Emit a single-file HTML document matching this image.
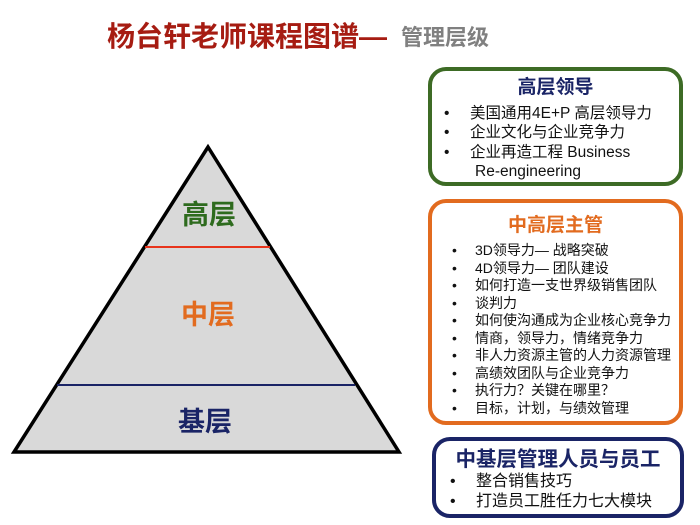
<!DOCTYPE html>
<html><head><meta charset="utf-8"><style>
*{margin:0;padding:0;box-sizing:border-box}
body{width:700px;height:525px;background:#fff;position:relative;overflow:hidden;font-family:"Liberation Sans","Noto Sans CJK SC",sans-serif}
.a{position:absolute;white-space:nowrap}
.box{position:absolute;background:#fff;border-radius:18px}
.t{position:absolute;left:0;right:0;text-align:center;font-weight:bold;line-height:1.2}
.li{position:absolute;white-space:nowrap;color:#111;line-height:20px;height:20px}
</style></head><body>
<div class="a" style="left:107px;top:15px;font-size:28px;font-weight:bold;color:#a61c12">杨台轩老师课程图谱—</div>
<div class="a" style="left:401px;top:20px;font-size:22px;font-weight:bold;color:#808080">管理层级</div>

<svg class="a" style="left:0;top:0" width="420" height="470">
<polygon points="208,147 14,452 399,452" fill="#d9d9d9" stroke="#000" stroke-width="3.5" stroke-linejoin="miter"/>
<line x1="145" y1="247" x2="270" y2="247" stroke="#e8341c" stroke-width="2"/>
<line x1="57" y1="385" x2="355" y2="385" stroke="#1a2466" stroke-width="2"/>
<text x="209" y="224" font-size="27" font-weight="bold" fill="#2e6b1e" text-anchor="middle" font-family="Liberation Sans,Noto Sans CJK SC,sans-serif">高层</text>
<text x="208" y="324" font-size="27" font-weight="bold" fill="#e26b1f" text-anchor="middle" font-family="Liberation Sans,Noto Sans CJK SC,sans-serif">中层</text>
<text x="205" y="431" font-size="27" font-weight="bold" fill="#1a2466" text-anchor="middle" font-family="Liberation Sans,Noto Sans CJK SC,sans-serif">基层</text>
</svg>

<div class="box" style="left:428px;top:67px;width:255px;height:119px;border:4px solid #3d6b25">
<div class="t" style="top:6px;font-size:19px;color:#1a2466">高层领导</div>
<div class="li" style="left:12px;top:33px;font-size:15.5px">•</div><div class="li" style="left:38px;top:33px;font-size:15.5px">美国通用4E+P 高层领导力</div>
<div class="li" style="left:12px;top:52px;font-size:15.5px">•</div><div class="li" style="left:38px;top:52px;font-size:15.5px">企业文化与企业竞争力</div>
<div class="li" style="left:12px;top:72px;font-size:15.5px">•</div><div class="li" style="left:38px;top:72px;font-size:15.5px">企业再造工程 Business</div>
<div class="li" style="left:43px;top:91px;font-size:15.5px">Re-engineering</div>
</div>

<div class="box" style="left:428px;top:199px;width:255px;height:226px;border:4px solid #e26b1f">
<div class="t" style="top:12px;font-size:19px;color:#e26b1f">中高层主管</div>
<div style="position:absolute;left:20px;top:39px;font-size:14px;line-height:17.5px;color:#111">•<br>•<br>•<br>•<br>•<br>•<br>•<br>•<br>•<br>•</div>
<div style="position:absolute;left:43px;top:39px;font-size:14px;line-height:17.5px;color:#111;white-space:nowrap">3D领导力— 战略突破<br>4D领导力— 团队建设<br>如何打造一支世界级销售团队<br>谈判力<br>如何使沟通成为企业核心竞争力<br>情商，领导力，情绪竞争力<br>非人力资源主管的人力资源管理<br>高绩效团队与企业竞争力<br>执行力？关键在哪里？<br>目标，计划，与绩效管理</div>
</div>

<div class="box" style="left:432px;top:437px;width:252px;height:81px;border:4px solid #1a2466">
<div class="t" style="top:7px;font-size:20.5px;color:#1a2466">中基层管理人员与员工</div>
<div class="li" style="left:14px;top:31px;font-size:16px">•</div><div class="li" style="left:40px;top:31px;font-size:16px">整合销售技巧</div>
<div class="li" style="left:14px;top:51px;font-size:16px">•</div><div class="li" style="left:40px;top:51px;font-size:16px">打造员工胜任力七大模块</div>
</div>
</body></html>
